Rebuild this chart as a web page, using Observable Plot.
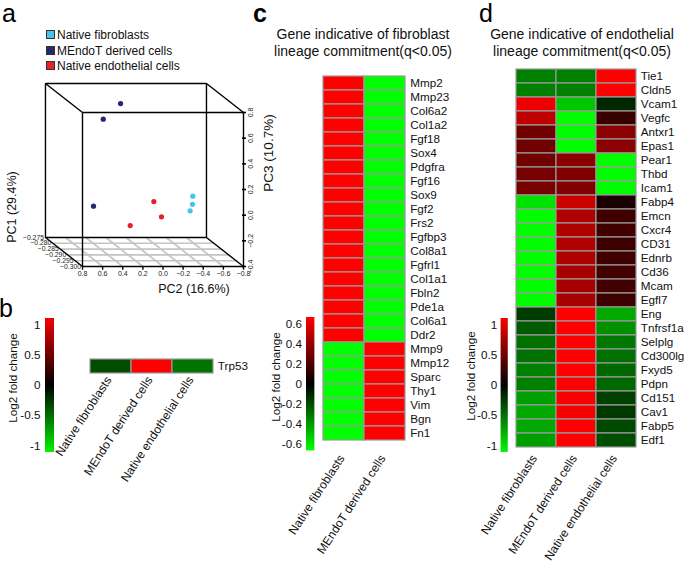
<!DOCTYPE html>
<html><head><meta charset="utf-8">
<script src="https://cdn.jsdelivr.net/npm/d3@7"></script>
<script src="https://cdn.jsdelivr.net/npm/@observablehq/plot@0.6"></script>
<style>
body{margin:0;background:#fff;}
#fig{position:relative;width:685px;height:570px;overflow:hidden;background:#fff;font-family:"Liberation Sans",Arial,sans-serif;color:#111;}
.abs{position:absolute;}
.abs svg{overflow:visible;}
.letter{position:absolute;font-size:25px;line-height:22px;color:#000;}
.title{position:absolute;font-size:14px;line-height:17px;text-align:center;white-space:nowrap;color:#111;}
.rot{position:absolute;white-space:nowrap;transform:translate(-50%,-50%) rotate(-90deg);}
.leg{position:absolute;font-size:12px;line-height:14px;white-space:nowrap;}
.leg span{display:inline-block;width:7px;height:7px;border:1px solid #333;margin-right:2px;vertical-align:0px;}
</style></head>
<body><div id="fig"></div>
<script>
// ---------------- data ----------------
const groups = ["Native fibroblasts", "MEndoT derived cells", "Native endothelial cells"];
const groupColors = ["#45c3ea", "#232a6b", "#e8202a"];

const pcaGroup = ["MEndoT derived cells","MEndoT derived cells","MEndoT derived cells",
  "Native endothelial cells","Native endothelial cells","Native endothelial cells",
  "Native fibroblasts","Native fibroblasts","Native fibroblasts"];
const pc1 = [-0.278, -0.296, -0.292, -0.282, -0.290, -0.297, -0.284, -0.285, -0.287];
const pc2 = [0.098, 0.535, 0.573, -0.174, -0.132, 0.282, -0.532, -0.514, -0.461];
const pc3 = [0.671, 0.712, -0.002, -0.057, -0.103, -0.108, 0.003, -0.051, -0.084];

const pc1Ticks = [-0.275, -0.280, -0.285, -0.290, -0.295, -0.300];
const pc1TickLabels = ["\u22120.275", "\u22120.280", "\u22120.285", "\u22120.290", "\u22120.295", "\u22120.300"];
const pc2Ticks = [0.8, 0.6, 0.4, 0.2, 0.0, -0.2, -0.4, -0.6, -0.8];
const pc2TickLabels = ["0.8","0.6","0.4","0.2","0.0","\u22120.2","\u22120.4","\u22120.6","\u22120.8"];
const pc3Ticks = [-0.4, -0.2, 0.0, 0.2, 0.4, 0.6, 0.8];
const pc3TickLabels = ["\u22120.4","\u22120.2","0.0","0.2","0.4","0.6","0.8"];

const trp53Genes = ["Trp53"];
const trp53Samples = ["Native fibroblasts", "MEndoT derived cells", "Native endothelial cells"];
const trp53Values = [-0.35, 1.15, -0.52];

const fibroGenes = ["Mmp2","Mmp23","Col6a2","Col1a2","Fgf18","Sox4","Pdgfra","Fgf16","Sox9","Fgf2",
  "Frs2","Fgfbp3","Col8a1","Fgfrl1","Col1a1","Fbln2","Pde1a","Col6a1","Ddr2","Mmp9",
  "Mmp12","Sparc","Thy1","Vim","Bgn","Fn1"];
const fibroSamples = ["Native fibroblasts", "MEndoT derived cells"];
const fibroNative = [0.71,0.71,0.71,0.71,0.71,0.71,0.71,0.71,0.71,0.71,
  0.71,0.71,0.71,0.71,0.71,0.71,0.71,0.71,0.71,-0.71,
  -0.71,-0.71,-0.71,-0.71,-0.71,-0.71];
const fibroMEndoT = [-0.71,-0.71,-0.71,-0.71,-0.71,-0.71,-0.71,-0.71,-0.71,-0.71,
  -0.71,-0.71,-0.71,-0.71,-0.71,-0.71,-0.71,-0.71,-0.71,0.71,
  0.71,0.71,0.71,0.71,0.71,0.71];

const endoGenes = ["Tie1","Cldn5","Vcam1","Vegfc","Antxr1","Epas1","Pear1","Thbd","Icam1","Fabp4",
  "Emcn","Cxcr4","CD31","Ednrb","Cd36","Mcam","Egfl7","Eng","Tnfrsf1a","Selplg",
  "Cd300lg","Fxyd5","Pdpn","Cd151","Cav1","Fabp5","Edf1"];
const endoSamples = ["Native fibroblasts", "MEndoT derived cells", "Native endothelial cells"];
const endoNativeFib = [-0.58,-0.58,1.08,0.87,0.51,0.51,0.51,0.54,0.54,-1.03,
  -1.15,-1.15,-1.15,-1.15,-1.15,-1.15,-1.15,-0.27,-0.41,-0.51,
  -0.51,-0.58,-0.58,-0.72,-0.76,-0.76,-0.72];
const endoMEndoT = [-0.58,-0.58,-0.90,-1.15,-1.15,-1.15,0.63,0.58,0.58,0.93,
  0.80,0.80,0.80,0.80,0.76,0.76,0.76,1.15,1.15,1.15,
  1.15,1.15,1.15,1.12,1.12,1.15,1.15];
const endoNativeEndo = [1.15,1.15,-0.18,0.26,0.63,0.63,-1.15,-1.15,-1.15,0.12,
  0.29,0.29,0.27,0.29,0.30,0.30,0.27,-0.76,-0.65,-0.54,
  -0.51,-0.47,-0.47,-0.29,-0.26,-0.33,-0.36];

const colorbarTicks35 = [1, 0.5, 0, -0.5, -1];
const colorbarTicksC = [0.6, 0.4, 0.2, 0, -0.2, -0.4, -0.6];

// ---------------- helpers ----------------
const FONT = "Liberation Sans, Arial, sans-serif";
const fig = document.getElementById("fig");
const baseStyle = {background: "transparent", overflow: "visible", fontFamily: FONT, fontSize: "11.7px", color: "#111"};
function place(el, left, top) {
  const w = document.createElement("div");
  w.className = "abs"; w.style.left = left + "px"; w.style.top = top + "px";
  w.appendChild(el); fig.appendChild(w);
}
function html(cls, text, css) {
  const d = document.createElement("div");
  d.className = cls; d.textContent = text; Object.assign(d.style, css || {});
  fig.appendChild(d); return d;
}
const heatColor = (m) => ({type: "linear", domain: [-m, 0, m], range: ["#00ff00", "#000000", "#ff0000"], interpolate: "rgb", clamp: true});

// ---------------- panel a : 3D PCA ----------------
const pc1Min = -0.300, pc1Max = -0.275;
const pc2Ext = [0.8, -0.8], pc3Ext = [-0.4, 0.8];
const depthX = 0.368, depthY = 0.226; // oblique projection shift (in PC2 / PC3 units) from front to back
function proj(p1, p2, p3) {
  const t = (p1 - pc1Min) / (pc1Max - pc1Min);
  return {x: p2 + depthX * t, y: p3 + depthY * t};
}
const pca = pcaGroup.map((g, i) => ({group: g, ...proj(pc1[i], pc2[i], pc3[i])}));
const corners = [];
for (const a of [pc1Min, pc1Max]) for (const b of pc2Ext) for (const c of pc3Ext) corners.push([a, b, c]);
const edges = [];
for (let i = 0; i < corners.length; i++) for (let j = i + 1; j < corners.length; j++) {
  const diff = corners[i].filter((v, k) => v !== corners[j][k]).length;
  if (diff === 1) { const p = proj(...corners[i]), q = proj(...corners[j]); edges.push({x1: p.x, y1: p.y, x2: q.x, y2: q.y}); }
}
const floor = [];
for (const v of pc1Ticks.slice(1, -1)) { const p = proj(v, pc2Ext[0], pc3Ext[0]), q = proj(v, pc2Ext[1], pc3Ext[0]); floor.push({x1: p.x, y1: p.y, x2: q.x, y2: q.y}); }
for (const v of pc2Ticks.slice(1, -1)) { const p = proj(pc1Min, v, pc3Ext[0]), q = proj(pc1Max, v, pc3Ext[0]); floor.push({x1: p.x, y1: p.y, x2: q.x, y2: q.y}); }

const plotA = Plot.plot({
  width: 280, height: 300, margin: 0,
  x: {type: "linear", domain: [0.8, -0.8], range: [82, 243], axis: null},
  y: {type: "linear", domain: [-0.4, 0.8], range: [266, 112], axis: null},
  color: {domain: groups, range: groupColors},
  style: baseStyle,
  marks: [
    Plot.link(floor, {x1: "x1", y1: "y1", x2: "x2", y2: "y2", stroke: "#c4c4c4", strokeWidth: 1.6}),
    Plot.link(edges, {x1: "x1", y1: "y1", x2: "x2", y2: "y2", stroke: "#000", strokeWidth: 1.4}),
    Plot.link(pc2Ticks, {x1: d => d, x2: d => d, y1: () => -0.4, y2: () => -0.425, stroke: "#000", strokeWidth: 1.4}),
    Plot.link(pc3Ticks, {x1: () => -0.785, x2: () => -0.825, y1: d => d, y2: d => d, stroke: "#000", strokeWidth: 1.6}),
    Plot.text(pc2Ticks, {x: d => d, y: () => -0.4, text: (d, i) => pc2TickLabels[i], dy: 7.5, fontSize: 7, fill: "#222"}),
    Plot.text(pc3Ticks, {x: () => -0.8, y: d => d, text: (d, i) => pc3TickLabels[i], dx: 7.5, rotate: -90, fontSize: 7, fill: "#222"}),
    Plot.text(pc1Ticks, {x: d => proj(d, 0.8, -0.4).x, y: d => proj(d, 0.8, -0.4).y, text: (d, i) => pc1TickLabels[i], textAnchor: "end", dx: -1.5, fontSize: 6.8, fill: "#222"}),
    Plot.dot(pca, {x: "x", y: "y", fill: "group", r: 2.6})
  ]
});
place(plotA, 0, 0);

groups.forEach((g, i) => {
  const d = document.createElement("div");
  d.className = "leg";
  d.style.left = "46px"; d.style.top = (28 + i * 15.5) + "px";
  const s = document.createElement("span"); s.style.background = groupColors[i];
  d.appendChild(s); d.appendChild(document.createTextNode(g));
  fig.appendChild(d);
});
html("rot", "PC1 (29.4%)", {left: "11.5px", top: "207px", fontSize: "12.5px"});
html("rot", "PC3 (10.7%)", {left: "268px", top: "153px", fontSize: "13.5px"});
html("rot", "PC2 (16.6%)", {left: "194px", top: "289px", fontSize: "12.5px", transform: "translate(-50%,-50%)"});

// ---------------- colorbar helper ----------------
function colorbar({left, barW, barH, extent, m, ticks, tickPadding}) {
  const n = Math.round(barH);
  const steps = d3.range(n).map(i => {
    const y1 = -extent + (2 * extent) * i / n, y2 = Math.min(extent, -extent + (2 * extent) * (i + 1.4) / n);
    return {y1, y2, v: (y1 + y2) / 2};
  });
  return Plot.plot({
    width: left + barW, height: barH,
    marginLeft: left, marginRight: 0, marginTop: 0, marginBottom: 0,
    x: {domain: [0, 1], axis: null},
    y: {domain: [-extent, extent], axis: null},
    color: heatColor(m),
    style: baseStyle,
    marks: [
      Plot.rect(steps, {x1: () => 0, x2: () => 1, y1: "y1", y2: "y2", fill: "v"}),
      Plot.axisY({ticks, tickSize: 0, tickPadding, tickFormat: d => String(d), fontSize: 11.7, label: null, fill: "#111"})
    ]
  });
}

// ---------------- heatmap helper ----------------
function heatmap({genes, samples, columns, m, width, height, ml, mr, mt, mb}) {
  const data = genes.flatMap((g, i) => samples.map((s, j) => ({gene: g, sample: s, value: columns[j][i]})));
  return Plot.plot({
    width, height, marginLeft: ml, marginRight: mr, marginTop: mt, marginBottom: mb,
    x: {type: "band", domain: samples, padding: 0, axis: null},
    y: {type: "band", domain: genes, padding: 0, axis: null},
    color: heatColor(m),
    style: baseStyle,
    marks: [
      Plot.cell(data, {x: "sample", y: "gene", fill: "value", inset: 0, stroke: "#9a9a9a", strokeWidth: 1.2}),
      Plot.text(genes, {y: d => d, frameAnchor: "right", textAnchor: "start", dx: 4, fontSize: 11.7, fill: "#111"}),
      Plot.text(samples, {x: d => d, frameAnchor: "bottom", textAnchor: "end", rotate: -57, dx: 1, dy: 6, fontSize: 12, fill: "#111"})
    ]
  });
}

// ---------------- panel b ----------------
place(colorbar({left: 45, barW: 9, barH: 134, extent: 1.11, m: 1.155, ticks: colorbarTicks35, tickPadding: 5}), 0, 318);
html("rot", "Log2 fold change", {left: "12px", top: "377.5px", fontSize: "11.7px"});
place(heatmap({genes: trp53Genes, samples: trp53Samples, columns: [[trp53Values[0]], [trp53Values[1]], [trp53Values[2]]], m: 1.155,
  width: 200, height: 270, ml: 30, mr: 46.7, mt: 59, mb: 196.7}), 60, 300);

// ---------------- panel c ----------------
place(colorbar({left: 56, barW: 8.3, barH: 133.4, extent: 0.665, m: 0.665, ticks: colorbarTicksC, tickPadding: 4.5}), 250, 317.3);
html("rot", "Log2 fold change", {left: "275px", top: "377px", fontSize: "11.7px"});
place(heatmap({genes: fibroGenes, samples: fibroSamples, columns: [fibroNative, fibroMEndoT], m: 0.665,
  width: 200, height: 570, ml: 71.7, mr: 44.3, mt: 64.3, mb: 118.3}), 250, 0);
html("title", "Gene indicative of fibroblast\nlineage commitment(q<0.05)", {left: "253px", width: "220px", top: "26px", whiteSpace: "pre"});

// ---------------- panel d ----------------
place(colorbar({left: 40.7, barW: 7, barH: 134, extent: 1.11, m: 1.155, ticks: colorbarTicks35, tickPadding: 4}), 460, 317.7);
html("rot", "Log2 fold change", {left: "470px", top: "376px", fontSize: "11.7px"});
place(heatmap({genes: endoGenes, samples: endoSamples, columns: [endoNativeFib, endoMEndoT, endoNativeEndo], m: 1.155,
  width: 205, height: 570, ml: 35.7, mr: 48.7, mt: 64.3, mb: 118.3}), 480, 0);
html("title", "Gene indicative of endothelial\nlineage commitment(q<0.05)", {left: "472px", width: "220px", top: "26px", whiteSpace: "pre"});

// ---------------- panel letters ----------------
html("letter", "a", {left: "2px", top: "2px"});
html("letter", "b", {left: "-1px", top: "297px"});
html("letter", "c", {left: "253px", top: "2px", fontWeight: "bold"});
html("letter", "d", {left: "479px", top: "2px"});
</script>
</body></html>
